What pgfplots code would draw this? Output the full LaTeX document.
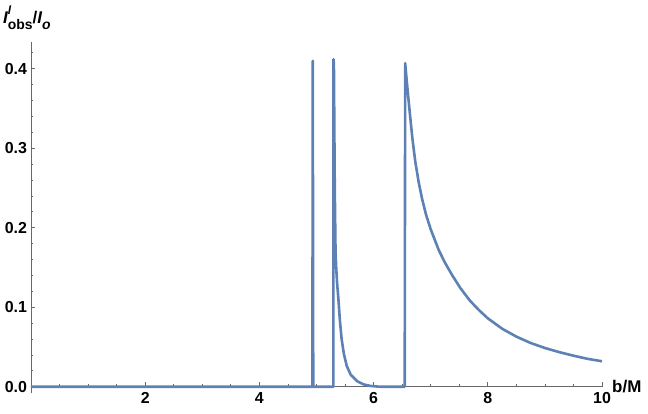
\documentclass[border=0pt]{standalone}
\usepackage{pgfplots}
\pgfplotsset{compat=1.18}
\usepackage{fontspec}
\setmainfont{Liberation Sans}
\definecolor{mmablue}{RGB}{94,129,181}
\definecolor{axgray}{RGB}{105,105,105}

\begin{document}
\begin{tikzpicture}
\begin{axis}[
    scale only axis,
    width=571bp, height=345bp,
    xmin=0, xmax=10,
    ymin=0, ymax=0.4340,
    axis lines=left,
    axis line style={axgray, line width=0.8bp, -},
    y axis line style={shorten <=-6.6bp},
    xtick={2,4,6,8,10},
    ytick={0,0.1,0.2,0.3,0.4},
    minor xtick={0.5,1,...,9.5},
    minor ytick={0.02,0.04,...,0.42},
    tick style={axgray, line width=0.8bp},
    major tick length=4.5bp,
    minor tick length=2.5bp,
    tick align=inside,
    yticklabel style={/pgf/number format/fixed, /pgf/number format/fixed zerofill, /pgf/number format/precision=1},
    /pgf/number format/assume math mode=true,
    ticklabel style={font=\fontsize{16}{18}\selectfont\bfseries},
    xticklabel style={yshift=-2bp},
    yticklabel style={xshift=-0.5bp},
    clip=false,
]
\addplot[mmablue, line width=2.6bp, line join=round] coordinates {
    (0,0) (4.928,0) (4.935,0.410) (4.943,0) (4.98,0)
    (5.295,0) (5.298,0.412) (5.305,0.405) (5.312,0.33) (5.320,0.25)
    (5.333,0.172) (5.345,0.150) (5.36,0.131) (5.385,0.109) (5.41,0.083)
    (5.44,0.060) (5.48,0.041) (5.53,0.026) (5.60,0.015) (5.71,0.007)
    (5.82,0.003) (5.94,0.001) (6.10,0) (6.545,0)
    (6.553,0.407) (6.58,0.385) (6.61,0.362) (6.64,0.340) (6.68,0.312)
    (6.73,0.283) (6.79,0.257) (6.85,0.236) (6.92,0.216) (7.00,0.198)
    (7.14,0.172) (7.25,0.156) (7.37,0.141) (7.52,0.124) (7.69,0.108)
    (7.85,0.096) (8.0,0.086) (8.25,0.073) (8.5,0.063) (8.75,0.055)
    (9.0,0.0487) (9.25,0.0435) (9.5,0.039) (9.75,0.035) (10,0.032)
};
\end{axis}
\node[anchor=west, inner sep=0pt, font=\fontsize{17}{19}\selectfont\bfseries] at (581bp,0bp) {b/M};
\node[anchor=west, inner sep=0pt, font=\fontsize{17}{19}\selectfont\bfseries] at (-28bp,369bp)
    {\itshape I\rlap{\raisebox{0.55em}{\fontsize{12}{13}\selectfont\itshape l}}\upshape\raisebox{-0.35em}{\fontsize{14}{15}\selectfont obs}/\itshape I\upshape\raisebox{-0.35em}{\fontsize{14}{15}\selectfont\itshape o}};
\pgfresetboundingbox
\path (-31bp,-27.3bp) rectangle (617bp,386.7bp);
\end{tikzpicture}
\end{document}
